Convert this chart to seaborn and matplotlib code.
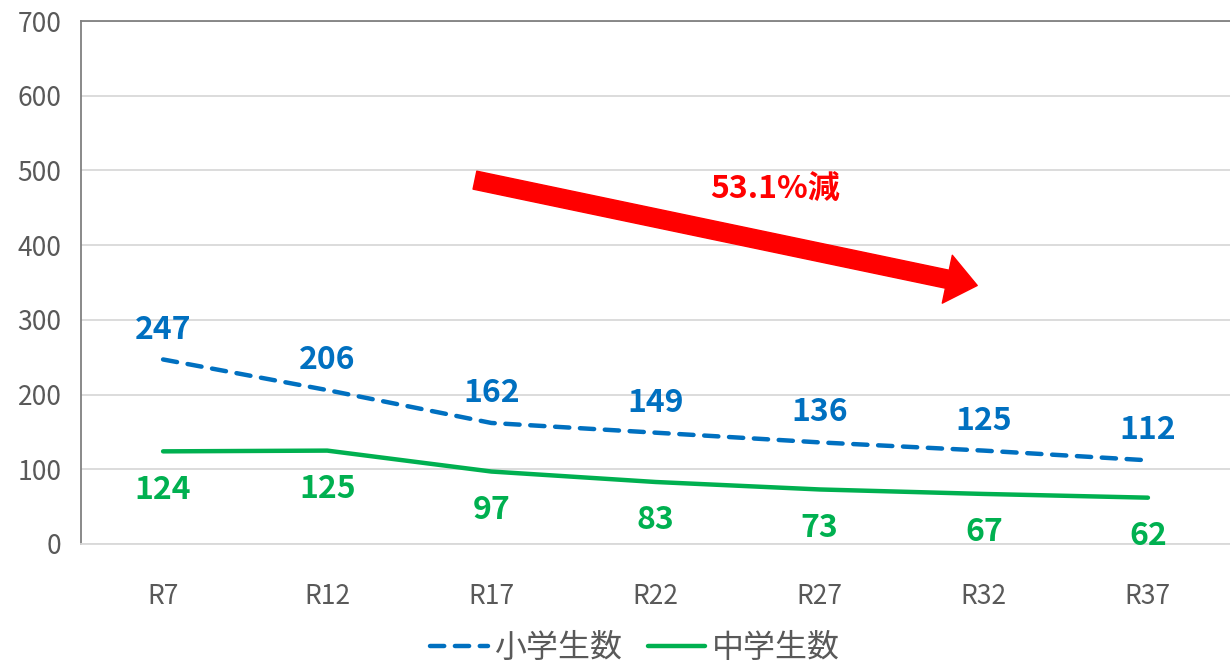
import numpy as np
import pandas as pd
import matplotlib
matplotlib.use("Agg")
import matplotlib.pyplot as plt
import seaborn as sns

# data
years = ["R7", "R12", "R17", "R22", "R27", "R32", "R37"]
elementary = [247, 206, 162, 149, 136, 125, 112]
junior = [124, 125, 97, 83, 73, 67, 62]
series_names = ["小学生数", "中学生数"]
note_text = "53.1%減"

sns.set_theme(style="white")
plt.rcParams['font.family'] = ['Noto Sans CJK JP', 'DejaVu Sans']

BLUE = '#0070C0'
GREEN = '#00B050'
GREY = '#595959'

df = pd.DataFrame({'x': np.arange(len(years)), 'elem': elementary, 'jun': junior})

fig = plt.figure(figsize=(12.3, 6.63), dpi=100)
ax = fig.add_axes([81 / 1230, 119 / 663, 1 - 81 / 1230, 523 / 663])

sns.lineplot(data=df, x='x', y='elem', ax=ax, color=BLUE, linewidth=3.2,
             label=series_names[0])
ax.lines[-1].set_dashes((3.2, 2.4))
ax.lines[-1].set_dash_capstyle('round')
sns.lineplot(data=df, x='x', y='jun', ax=ax, color=GREEN, linewidth=3.2,
             label=series_names[1])

# data labels
for i, v in enumerate(elementary):
    ax.annotate(str(v), (i, v), xytext=(0, 10), textcoords='offset points',
                ha='center', va='bottom', fontsize=23, fontweight='bold', color=BLUE)
for i, v in enumerate(junior):
    ax.annotate(str(v), (i, v), xytext=(0, -16), textcoords='offset points',
                ha='center', va='top', fontsize=23, fontweight='bold', color=GREEN)

# red arrow
ax.annotate('', xy=(4.96, 346), xytext=(1.90, 487),
            arrowprops=dict(arrowstyle='simple,head_length=1.0,head_width=1.6,tail_width=0.6',
                            color='red', mutation_scale=22, shrinkA=0, shrinkB=0))
ax.text(3.73, 474, note_text, ha='center', va='center', fontsize=23,
        fontweight='bold', color='red')

ax.set_xlim(-0.5, 6.42)
ax.set_ylim(0, 700)
ax.set_yticks(range(0, 701, 100))
ax.set_xticks(range(len(years)))
ax.set_xticklabels(years)
ax.set_xticks(np.arange(-0.5, 7, 1), minor=True)
ax.tick_params(axis='x', which='major', length=0, pad=28, labelsize=19, labelcolor=GREY)
ax.tick_params(axis='x', which='minor', length=8, color='#D9D9D9', width=1.2)
ax.tick_params(axis='y', length=0, pad=14, labelsize=19, labelcolor=GREY)
ax.set_xlabel('')
ax.set_ylabel('')
ax.yaxis.grid(True, color='#D9D9D9', linewidth=1.3)
ax.set_axisbelow(True)

ax.spines['left'].set_color('#808080')
ax.spines['left'].set_linewidth(1.3)
ax.spines['top'].set_color('#808080')
ax.spines['top'].set_linewidth(1.3)
ax.spines['right'].set_visible(False)
ax.spines['bottom'].set_color('#D9D9D9')
ax.spines['bottom'].set_linewidth(1.3)

leg = ax.legend(loc='center', bbox_to_anchor=(0.482, -0.199), ncol=2, frameon=False,
                fontsize=23, handlelength=1.8, columnspacing=0.8, handletextpad=0.2)
for t in leg.get_texts():
    t.set_color(GREY)

fig.savefig('out.png', dpi=100, facecolor='white')
